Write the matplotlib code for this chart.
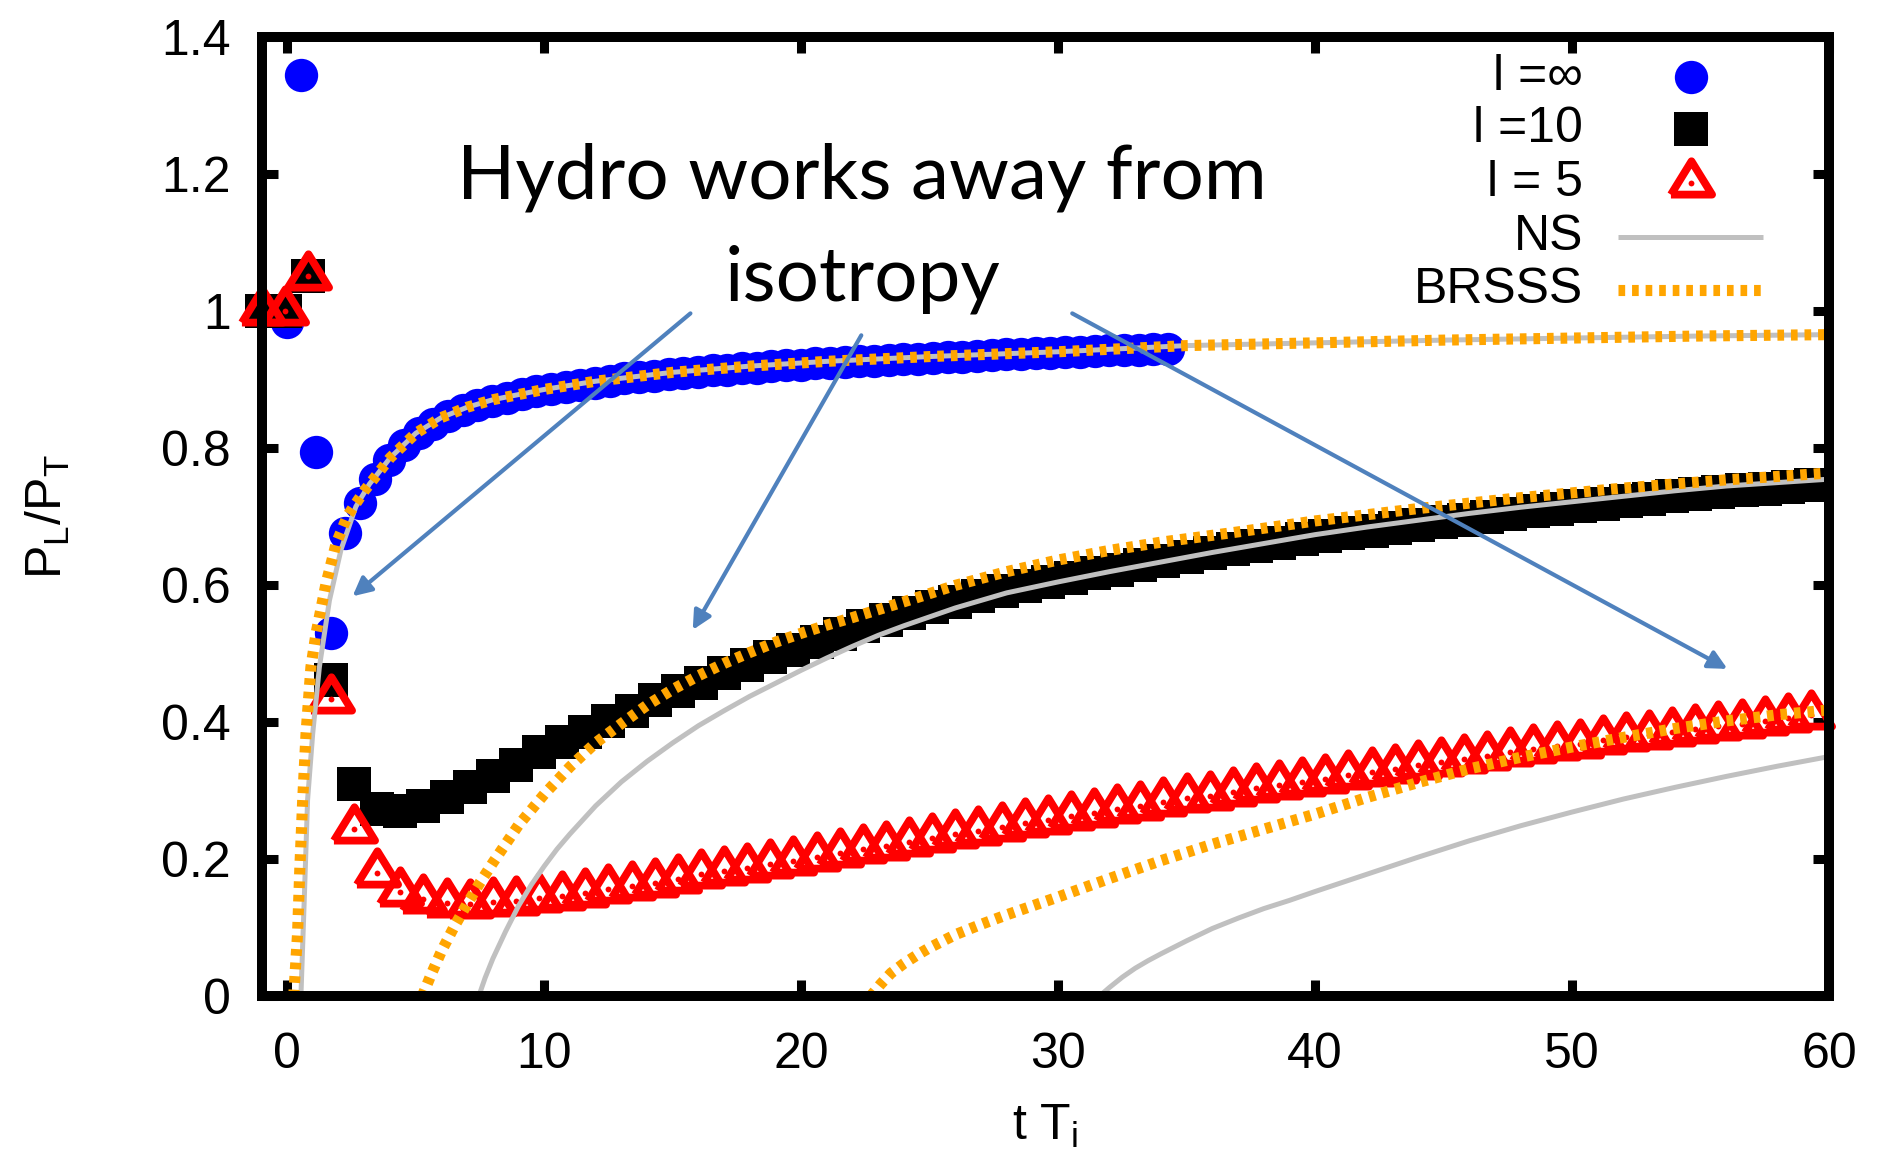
import matplotlib
matplotlib.use('Agg')
import matplotlib.pyplot as plt
from matplotlib.lines import Line2D

plt.rcParams['font.family'] = ['Liberation Sans', 'DejaVu Sans']
plt.rcParams['mathtext.fontset'] = 'custom'
plt.rcParams['mathtext.rm'] = 'Liberation Sans'
plt.rcParams['mathtext.it'] = 'Liberation Sans'

# ---------------- data ----------------
# l = infinity (blue circles)
t_inf = [-0.03, 0.54, 1.11, 1.69, 2.26, 2.83, 3.40, 3.97, 4.54, 5.11, 5.69, 6.26,
         6.83, 7.40, 7.97, 8.55, 9.12, 9.69, 10.26, 10.83, 11.41, 11.98, 12.55,
         13.12, 13.69, 14.26, 14.84, 15.41, 15.98, 16.55, 17.12, 17.70, 18.27,
         18.84, 19.41, 19.98, 20.55, 21.13, 21.70, 22.27, 22.84, 23.41, 23.98,
         24.56, 25.13, 25.70, 26.27, 26.84, 27.41, 27.99, 28.56, 29.13, 29.70,
         30.27, 30.84, 31.42, 31.99, 32.56, 33.13, 33.70, 34.27]
r_inf = [0.985, 1.345, 0.795, 0.531, 0.677, 0.720, 0.755, 0.783, 0.805, 0.822,
         0.836, 0.847, 0.856, 0.863, 0.869, 0.874, 0.879, 0.883, 0.887, 0.890,
         0.893, 0.896, 0.899, 0.902, 0.904, 0.906, 0.908, 0.910, 0.912, 0.914,
         0.915, 0.917, 0.918, 0.920, 0.921, 0.922, 0.924, 0.925, 0.926, 0.927,
         0.928, 0.929, 0.930, 0.931, 0.932, 0.933, 0.934, 0.935, 0.936, 0.937,
         0.938, 0.939, 0.939, 0.940, 0.941, 0.942, 0.943, 0.943, 0.944, 0.945,
         0.945]

# l = 10 and l = 5 share the same time samples
t_fin = [-1.0, -0.1, 0.8, 1.7, 2.6, 3.5, 4.4, 5.3, 6.2, 7.1, 8.0, 8.9, 9.8, 10.7,
         11.6, 12.5, 13.4, 14.3, 15.2, 16.1, 17.0, 17.9, 18.8, 19.7, 20.6, 21.5,
         22.4, 23.3, 24.2, 25.1, 26.0, 26.9, 27.8, 28.7, 29.6, 30.5, 31.4, 32.3,
         33.2, 34.1, 35.0, 35.9, 36.8, 37.7, 38.6, 39.5, 40.4, 41.3, 42.2, 43.1,
         44.0, 44.9, 45.8, 46.7, 47.6, 48.5, 49.4, 50.3, 51.2, 52.1, 53.0, 53.9,
         54.8, 55.7, 56.6, 57.5, 58.4, 59.3]
r_l10 = [1.0, 1.0, 1.051, 0.462, 0.310, 0.273, 0.270, 0.278, 0.291, 0.305, 0.322,
         0.338, 0.356, 0.372, 0.386, 0.402, 0.417, 0.432, 0.446, 0.458, 0.472,
         0.484, 0.496, 0.506, 0.518, 0.529, 0.540, 0.549, 0.559, 0.569, 0.576,
         0.584, 0.592, 0.599, 0.605, 0.611, 0.618, 0.623, 0.630, 0.636, 0.642,
         0.647, 0.653, 0.657, 0.662, 0.667, 0.672, 0.676, 0.680, 0.684, 0.688,
         0.692, 0.696, 0.700, 0.704, 0.708, 0.712, 0.716, 0.719, 0.723, 0.726,
         0.730, 0.733, 0.736, 0.739, 0.741, 0.744, 0.746]
r_l5 = [1.0, 1.0, 1.051, 0.434, 0.244, 0.180, 0.153, 0.142, 0.136, 0.135, 0.137,
        0.139, 0.143, 0.146, 0.151, 0.156, 0.161, 0.166, 0.171, 0.178, 0.183,
        0.187, 0.193, 0.198, 0.204, 0.209, 0.215, 0.220, 0.225, 0.231, 0.237,
        0.241, 0.247, 0.253, 0.258, 0.263, 0.268, 0.273, 0.278, 0.283, 0.289,
        0.293, 0.299, 0.304, 0.309, 0.313, 0.318, 0.323, 0.328, 0.332, 0.338,
        0.342, 0.347, 0.351, 0.356, 0.361, 0.365, 0.369, 0.374, 0.378, 0.382,
        0.386, 0.390, 0.394, 0.398, 0.402, 0.407, 0.411]

# Navier-Stokes (NS) curves
ns_inf_t = [0.53, 0.66, 0.79, 0.99, 1.25, 1.64, 2.09, 2.67, 3.2, 3.5, 4.0, 5, 6, 7, 8,
            10, 12, 15, 18, 21, 25, 30, 35, 40, 45, 50, 55, 60]
ns_inf_y = [0.0, 0.141, 0.287, 0.384, 0.481, 0.578, 0.652, 0.715, 0.748, 0.762,
            0.786, 0.822, 0.845, 0.860, 0.871, 0.886, 0.898, 0.911, 0.920, 0.927,
            0.934, 0.941, 0.950, 0.954, 0.958, 0.961, 0.964, 0.966]
ns_l10_t = [7.45, 7.7, 8.0, 8.5, 9.0, 9.5, 10, 10.5, 11, 12, 13, 14, 15, 16, 17, 18,
            19, 20, 21, 22, 23, 24, 26, 28, 30, 32, 34, 36, 38, 40, 42, 44, 46,
            48, 50, 52, 54, 56, 58, 60]
ns_l10_y = [0.0, 0.027, 0.055, 0.095, 0.132, 0.163, 0.190, 0.215, 0.237, 0.278,
            0.313, 0.343, 0.370, 0.395, 0.417, 0.438, 0.457, 0.476, 0.494, 0.511,
            0.527, 0.541, 0.567, 0.589, 0.605, 0.620, 0.634, 0.648, 0.661, 0.674,
            0.685, 0.695, 0.705, 0.714, 0.722, 0.730, 0.738, 0.745, 0.750, 0.755]
ns_l5_t = [31.6, 32.0, 32.5, 33.0, 33.5, 34, 35, 36, 37, 38, 39, 40, 42, 44, 46, 48,
           50, 52, 54, 56, 58, 60]
ns_l5_y = [0.0, 0.013, 0.028, 0.041, 0.052, 0.062, 0.081, 0.099, 0.114, 0.128, 0.140,
           0.153, 0.178, 0.203, 0.227, 0.249, 0.269, 0.288, 0.305, 0.321, 0.336,
           0.350]

# BRSSS curves
br_inf_t = [0.25, 0.40, 0.49, 0.60, 0.73, 0.92, 1.12, 1.51, 1.90, 2.35, 3.0, 3.5, 4.0,
            5, 6, 7, 8, 10, 12, 15, 18, 21, 25, 30, 35, 40, 45, 50, 55, 60]
br_inf_y = [0.0, 0.092, 0.189, 0.287, 0.384, 0.481, 0.530, 0.603, 0.661, 0.702,
            0.738, 0.762, 0.786, 0.822, 0.845, 0.860, 0.871, 0.886, 0.898, 0.911,
            0.920, 0.927, 0.934, 0.941, 0.950, 0.954, 0.958, 0.961, 0.964, 0.966]
br_l10_t = [5.25, 5.6, 6, 6.5, 7, 7.5, 8, 9, 10, 11, 12, 13, 14, 15, 16, 17, 18, 19,
            20, 21, 22, 24, 26, 28, 30, 32, 34, 37, 40, 44, 48, 52, 56, 60]
br_l10_y = [0.0, 0.032, 0.066, 0.102, 0.135, 0.166, 0.195, 0.25, 0.295, 0.335, 0.37,
            0.398, 0.425, 0.448, 0.468, 0.486, 0.502, 0.517, 0.530, 0.542, 0.553,
            0.576, 0.600, 0.620, 0.637, 0.651, 0.663, 0.678, 0.694, 0.712, 0.728,
            0.742, 0.754, 0.764]
br_l5_t = [22.7, 23.1, 23.5, 24.0, 24.5, 25, 26, 27, 28, 30, 32, 34, 36, 38, 40, 42,
           44, 46, 48, 50, 52, 54, 56, 58, 60]
br_l5_y = [0.0, 0.018, 0.034, 0.048, 0.060, 0.071, 0.090, 0.105, 0.119, 0.145, 0.172,
           0.198, 0.222, 0.244, 0.266, 0.290, 0.312, 0.332, 0.349, 0.364, 0.378,
           0.391, 0.402, 0.411, 0.418]

x_ticks = [0, 10, 20, 30, 40, 50, 60]
y_ticks = [0, 0.2, 0.4, 0.6, 0.8, 1.0, 1.2, 1.4]
y_tick_labels = ['0', '0.2', '0.4', '0.6', '0.8', '1', '1.2', '1.4']
legend_labels = ['l =\u221e', 'l =10', 'l = 5', 'NS', 'BRSSS']

# ---------------- styles ----------------
BLUE = '#0000ff'
RED = '#ff0000'
GRAY = '#c0c0c0'
ORANGE = '#ffa500'
ARROW = '#4f81bd'
TRI = [(-1.0, -0.54), (1.0, -0.54), (0.0, 1.08), (-1.0, -0.54)]

fig = plt.figure(figsize=(18.82, 11.6), dpi=100)
ax = fig.add_axes([0.139, 0.1411, 0.8328, 0.8267])

circ_kw = dict(ls='none', marker='o', ms=24, mfc=BLUE, mec=BLUE, mew=0, clip_on=False)
sq_kw = dict(ls='none', marker='s', ms=24, mfc='black', mec='black', mew=0, clip_on=False)
tri_kw = dict(ls='none', marker=TRI, ms=32, mfc='none', mec=RED, mew=5.6,
              clip_on=False)
dot_kw = dict(ls='none', marker='o', ms=4.2, mfc=RED, mec=RED, mew=0, clip_on=False)
ns_kw = dict(color=GRAY, lw=3.6, solid_capstyle='butt', solid_joinstyle='round')
br_kw = dict(color=ORANGE, lw=8.0, dashes=(0.6, 0.62), dash_capstyle='butt')

ax.plot(t_inf, r_inf, zorder=3, **circ_kw)
ax.plot(t_fin, r_l10, zorder=4, **sq_kw)
ax.plot(t_fin, r_l5, zorder=5, **tri_kw)
ax.plot(t_fin, r_l5, zorder=5.1, **dot_kw)

for tt, yy in ((ns_inf_t, ns_inf_y), (ns_l10_t, ns_l10_y), (ns_l5_t, ns_l5_y)):
    ax.plot(tt, yy, zorder=6, **ns_kw)
for tt, yy in ((br_inf_t, br_inf_y), (br_l10_t, br_l10_y), (br_l5_t, br_l5_y)):
    ax.plot(tt, yy, zorder=7, **br_kw)

ax.set_xlim(-1.0, 60)
ax.set_ylim(0, 1.4)
ax.set_xticks(x_ticks)
ax.set_xticklabels([str(v) for v in x_ticks])
ax.set_yticks(y_ticks)
ax.set_yticklabels(y_tick_labels)
ax.tick_params(direction='in', length=11.5, width=6.5, labelsize=36,
               top=True, right=True, color='black')
ax.tick_params(axis='x', pad=26)
ax.tick_params(axis='y', pad=22)
for sp in ax.spines.values():
    sp.set_linewidth(7.2)
    sp.set_zorder(10)

ax.set_xlabel(r'$\mathregular{t\ T_i}$', fontsize=36)
ax.set_ylabel(r'$\mathregular{P_L/P_T}$', fontsize=36)
ax.xaxis.set_label_coords(0.5, -0.111)
ax.yaxis.set_label_coords(-0.121, 0.5)

# ---------------- manual legend (text right-aligned, samples on the right) ----------------
leg_y = [0.959, 0.904, 0.848, 0.792, 0.737]
txt_x, mk_x, ln_x0, ln_x1 = 0.843, 0.912, 0.8654, 0.9579
handles = [
    dict(kind='m', kw=circ_kw),
    dict(kind='m', kw=sq_kw),
    dict(kind='m', kw=tri_kw),
    dict(kind='l', kw=ns_kw),
    dict(kind='l', kw=br_kw),
]
for lab, y, h in zip(legend_labels, leg_y, handles):
    ax.text(txt_x, y, lab, transform=ax.transAxes, ha='right', va='center',
            fontsize=36, zorder=12)
    if h['kind'] == 'm':
        ax.add_line(Line2D([mk_x], [y], transform=ax.transAxes, zorder=12, **h['kw']))
        if h['kw'] is tri_kw:
            ax.add_line(Line2D([mk_x], [y], transform=ax.transAxes, zorder=12.1, **dot_kw))
    else:
        ax.add_line(Line2D([ln_x0, ln_x1], [y, y], transform=ax.transAxes,
                           zorder=12, clip_on=False, **h['kw']))

# ---------------- annotation ----------------
ann_kw = dict(ha='center', va='baseline', fontsize=55, family=['Lato', 'DejaVu Sans'],
              color='black', zorder=15)
ax.text(22.37, 1.1645, 'Hydro works away from', **ann_kw)
ax.text(22.37, 1.0165, 'isotropy', **ann_kw)

arrows = [((15.69, 0.997), (2.54, 0.584)),
          ((22.34, 0.965), (15.78, 0.535)),
          ((30.55, 0.997), (56.05, 0.478))]
for start, end in arrows:
    ax.annotate('', xy=end, xytext=start,
                arrowprops=dict(arrowstyle='-|>', color=ARROW, lw=3.0,
                                mutation_scale=28, shrinkA=0, shrinkB=0),
                zorder=14)

fig.savefig('out.png', dpi=100)
